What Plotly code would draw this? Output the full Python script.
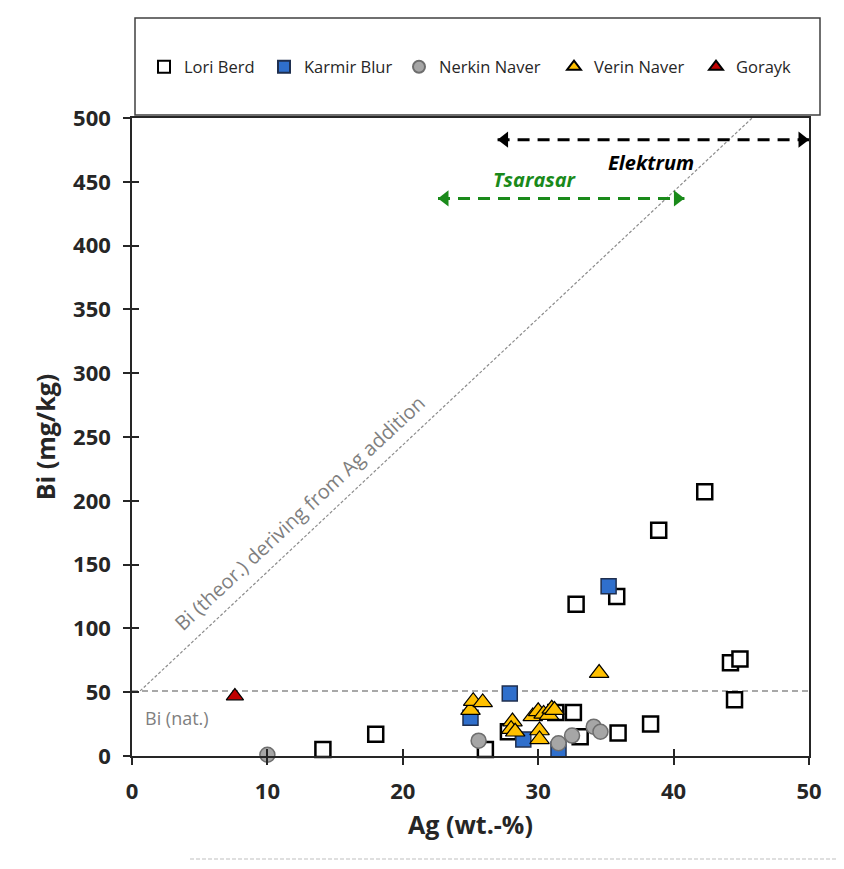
import plotly.graph_objects as go

# ---- data ----
lori_x = [14.1, 18.0, 26.1, 27.8, 31.3, 32.6, 33.1, 35.9, 38.3, 32.8, 35.8, 38.9, 42.3, 44.2, 44.9, 44.5]
lori_y = [5, 17, 5, 19, 34, 34, 15, 18, 25, 119, 125, 177, 207, 73, 76, 44]

karmir_x = [25.0, 27.9, 28.9, 31.5, 35.2]
karmir_y = [30, 49, 13, 5, 133]

nerkin_x = [10.0, 25.6, 31.5, 32.5, 34.1, 34.6]
nerkin_y = [1, 12, 10, 16, 23, 19]

verin_x = [25.0, 25.2, 25.9, 28.1, 28.0, 28.3, 29.6, 30.0, 30.4, 30.1, 30.1, 30.8, 31.0, 31.2, 34.5]
verin_y = [36, 43, 42, 27, 21, 19, 31, 35, 33, 20, 13, 32, 37, 36, 65]

gorayk_x = [7.6]
gorayk_y = [47]

bi_nat = 51
theor_x = [0.6, 45.8]
theor_y = [51, 500]

elektrum_x = [27.0, 50.0]   # arrow tips
elektrum_y = [483, 483]
tsarasar_x = [22.6, 40.8]
tsarasar_y = [437, 437]

x_ticks = [0, 10, 20, 30, 40, 50]
y_ticks = [0, 50, 100, 150, 200, 250, 300, 350, 400, 450, 500]

FONT = "Open Sans"
TXT = "#262626"

# page geometry (browser body has an 8px margin)
W, H = 828, 853
ML, MR, MT, MB = 124, 27, 110, 105
PW = W - ML - MR
PH = H - MT - MB
PX0, PY0 = 8 + ML, 8 + MT


def px_to_paper_x(px):
    return (px - PX0) / PW


def px_to_paper_y(py):
    return (PY0 + PH - py) / PH


X_PER_PX = 50 / PW
ARROW_SIZE = 14

fig = go.Figure()

# reference lines
fig.add_trace(go.Scatter(x=[0, 50], y=[bi_nat, bi_nat], mode="lines",
                         line=dict(color="#8c8c8c", width=1.5, dash="6px,4px"),
                         showlegend=False, hoverinfo="skip"))
fig.add_trace(go.Scatter(x=theor_x, y=theor_y, mode="lines",
                         line=dict(color="#8c8c8c", width=1.2, dash="3px,2px"),
                         showlegend=False, hoverinfo="skip"))

# arrows
for xs, ys, col in [(elektrum_x, elektrum_y, "black"), (tsarasar_x, tsarasar_y, "#1a8a1a")]:
    fig.add_trace(go.Scatter(x=xs, y=ys, mode="lines",
                             line=dict(color=col, width=3, dash="12px,8px"),
                             showlegend=False, hoverinfo="skip", cliponaxis=False))
    off = ARROW_SIZE / 2 * X_PER_PX
    fig.add_trace(go.Scatter(x=[xs[0] + off, xs[1] - off], y=ys, mode="markers",
                             marker=dict(symbol=["triangle-left", "triangle-right"], size=ARROW_SIZE,
                                         color=col, line=dict(width=0)),
                             showlegend=False, hoverinfo="skip", cliponaxis=False))

# data series
series = [
    ("Lori Berd", lori_x, lori_y, dict(symbol="square", size=15, color="white",
                                       line=dict(color="black", width=2.5))),
    ("Karmir Blur", karmir_x, karmir_y, dict(symbol="square", size=15, color="#2f6fcc",
                                             line=dict(color="#1f2f4f", width=1.5))),
    ("Nerkin Naver", nerkin_x, nerkin_y, dict(symbol="circle", size=15, color="#a6a6a6",
                                              line=dict(color="#6e6e6e", width=1.5))),
    ("Verin Naver", verin_x, verin_y, dict(symbol="triangle-up", size=17, color="#ffc000",
                                           line=dict(color="black", width=1.2))),
    ("Gorayk", gorayk_x, gorayk_y, dict(symbol="triangle-up", size=15, color="#c00000",
                                        line=dict(color="black", width=1.2))),
]
legend_marker_px = [164, 284, 419, 574, 716]
legend_names = ["legend", "legend2", "legend3", "legend4", "legend5"]

for (name, xs, ys, mk), lg in zip(series, legend_names):
    fig.add_trace(go.Scatter(x=xs, y=ys, mode="markers", name=name, marker=mk,
                             cliponaxis=False, legend=lg))

# overlay axes for inner half of crossing ticks
fig.add_trace(go.Scatter(x=[None], y=[None], xaxis="x2", yaxis="y2", showlegend=False,
                         hoverinfo="skip"))

tick_font = dict(family=FONT, size=22, color=TXT, weight="bold")
layout = dict(
    width=W, height=H,
    margin=dict(l=ML, r=MR, t=MT, b=MB),
    paper_bgcolor="white", plot_bgcolor="white",
    font=dict(family=FONT, color=TXT),
    xaxis=dict(range=[0, 50], tickvals=x_ticks, ticks="outside", ticklen=7, tickwidth=1.5,
               tickcolor=TXT, showgrid=False, zeroline=False,
               showline=True, linecolor=TXT, linewidth=1.5, mirror=True,
               tickfont=tick_font, ticklabelstandoff=8,
               title=dict(text="<b>Ag (wt.-%)</b>", font=dict(family=FONT, size=25, color=TXT),
                          standoff=12)),
    yaxis=dict(range=[0, 500], tickvals=y_ticks, ticks="outside", ticklen=7, tickwidth=1.5,
               tickcolor=TXT, showgrid=False, zeroline=False,
               showline=True, linecolor=TXT, linewidth=1.5, mirror=True,
               tickfont=tick_font, ticklabelstandoff=8,
               title=dict(text="<b>Bi (mg/kg)</b>", font=dict(family=FONT, size=25, color=TXT),
                          standoff=10)),
    xaxis2=dict(range=[0, 50], tickvals=x_ticks, ticks="inside", ticklen=7, tickwidth=1.5,
                tickcolor=TXT, showticklabels=False, showgrid=False, zeroline=False,
                showline=False, overlaying="x", anchor="y2"),
    yaxis2=dict(range=[0, 500], tickvals=y_ticks, ticks="inside", ticklen=7, tickwidth=1.5,
                tickcolor=TXT, showticklabels=False, showgrid=False, zeroline=False,
                showline=False, overlaying="y", anchor="x2"),
    showlegend=True,
)
for lg, mpx in zip(legend_names, legend_marker_px):
    layout[lg] = dict(orientation="h", x=px_to_paper_x(mpx - 20), y=px_to_paper_y(67),
                      xanchor="left", yanchor="middle",
                      font=dict(family=FONT, size=16.5, color=TXT), itemsizing="constant",
                      bgcolor="rgba(0,0,0,0)", borderwidth=0)
fig.update_layout(**layout)

# legend frame
fig.add_shape(type="rect", xref="paper", yref="paper",
              x0=px_to_paper_x(135), x1=px_to_paper_x(820),
              y0=px_to_paper_y(115), y1=px_to_paper_y(18),
              line=dict(color="#404040", width=1.5), fillcolor="rgba(0,0,0,0)")
# faint bottom dashed artefact
fig.add_shape(type="line", xref="paper", yref="paper",
              x0=px_to_paper_x(190), x1=px_to_paper_x(836),
              y0=px_to_paper_y(859), y1=px_to_paper_y(859),
              line=dict(color="#bfbfbf", width=1, dash="4px,2px"))

# annotations
fig.add_annotation(x=38.3, y=465, text="<b><i>Elektrum</i></b>", showarrow=False,
                   font=dict(family=FONT, size=20, color="black"))
fig.add_annotation(x=29.8, y=452, text="<b><i>Tsarasar</i></b>", showarrow=False,
                   font=dict(family=FONT, size=20, color="#1a8a1a"))
fig.add_annotation(x=0.8, y=30, text="Bi (nat.)", showarrow=False, xanchor="left",
                   font=dict(family=FONT, size=18, color="#7f7f7f"))
fig.add_annotation(x=12.4, y=191, text="Bi (theor.) deriving from Ag addition", showarrow=False,
                   textangle=-43, font=dict(family=FONT, size=20, color="#7f7f7f"))

fig.write_html("out.html")
